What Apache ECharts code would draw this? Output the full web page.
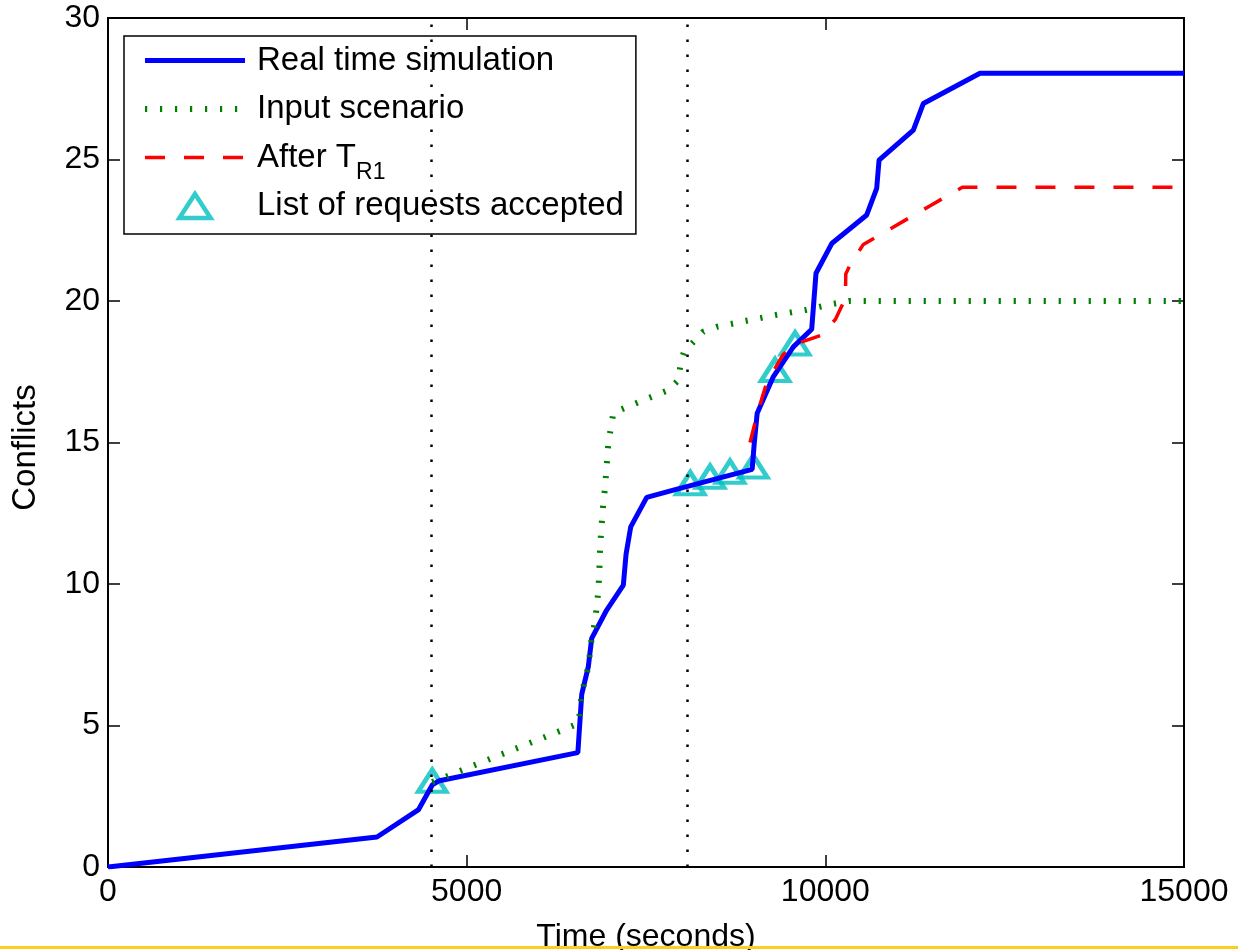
<!DOCTYPE html>
<html>
<head>
<meta charset="utf-8">
<script src="https://cdn.jsdelivr.net/npm/echarts@6/dist/echarts.min.js"></script>
<style>
  html, body { margin: 0; padding: 0; background: #fff; }
  #chart { width: 1238px; height: 950px; }
</style>
</head>
<body>
<div id="chart"></div>
<script>
// values: [time (s), conflicts]
var realTime = [
  [0, 0], [3750, 1.06], [4330, 2.03], [4520, 2.9], [4620, 3.05], [6550, 4.04],
  [6604, 6.1], [6696, 7.08], [6743, 8.08], [6952, 9.08], [7184, 9.96], [7222, 11.05],
  [7287, 12.02], [7510, 13.06], [7881, 13.32], [8980, 14.05], [9010, 15.0], [9050, 16.03],
  [9276, 17.33], [9554, 18.38], [9810, 19.0], [9870, 20.98], [10089, 22.03], [10577, 23.04],
  [10716, 23.98], [10749, 24.98], [11227, 26.04], [11367, 26.98], [12156, 28.05], [15000, 28.05]
];
var inputScenario = [
  [4520, 3.0], [6560, 5.07], [6604, 6.14], [6696, 7.08], [6743, 8.1], [6790, 8.67],
  [6835, 9.73], [6850, 10.5], [6860, 11.3], [6905, 12.9], [6929, 13.4], [6975, 14.97],
  [7045, 16.05], [7420, 16.45], [7810, 16.85], [7950, 17.2], [7990, 17.9], [8030, 18.2],
  [8160, 18.55], [8300, 18.92], [8490, 19.09], [8900, 19.3], [9300, 19.5], [9720, 19.68],
  [10110, 19.9], [10330, 20.0], [15000, 20.0]
];
var afterTR1 = [
  [8950, 15.0], [9050, 16.0], [9180, 17.1], [9410, 18.1], [9560, 18.45], [9950, 18.8],
  [10140, 19.35], [10280, 20.1], [10285, 20.95], [10350, 21.3], [10530, 22.0],
  [11450, 23.35], [11910, 24.02], [15000, 24.02]
];
var accepted = [
  [4520, 3.05], [8117, 13.56], [8393, 13.79], [8671, 13.97], [8997, 14.15],
  [9299, 17.56], [9578, 18.5]
];
var markerTimes = [4500, 8080];
var xTicks = [0, 5000, 10000, 15000];
var yTicks = [0, 5, 10, 15, 20, 25, 30];

var FONT = 'Liberation Sans, Arial, Helvetica, sans-serif';
var CYAN = '#00BFBF';
var TRI = 'path://M13,0L26,20L0,20Z';
var noSymbol = { color: 'rgba(0,0,0,0)', borderWidth: 0 };

var chart = echarts.init(document.getElementById('chart'));

function axis(extra) {
  return Object.assign({
    type: 'value',
    axisLine: { show: true, onZero: false, lineStyle: { color: '#000', width: 2 } },
    axisTick: { show: true, inside: true, length: 12, lineStyle: { color: '#000', width: 1.5 } },
    splitLine: { show: false }
  }, extra);
}
var labelStyle = {
  fontSize: 32, fontFamily: FONT, color: '#000',
  formatter: function (v) { return String(v); }
};

var option = {
  animation: false,
  backgroundColor: '#fff',
  grid: {
    left: 108, right: 54, top: 18, bottom: 83,
    outerBoundsMode: 'none', containLabel: false,
    show: true, borderColor: '#000', borderWidth: 2
  },
  xAxis: [
    axis({
      min: xTicks[0], max: xTicks[xTicks.length - 1], interval: xTicks[1] - xTicks[0],
      position: 'bottom',
      name: 'Time (seconds)', nameLocation: 'middle', nameGap: 54,
      nameTextStyle: { fontSize: 32, fontFamily: FONT, color: '#000' },
      axisLabel: Object.assign({ margin: 9 }, labelStyle)
    }),
    axis({
      min: xTicks[0], max: xTicks[xTicks.length - 1], interval: xTicks[1] - xTicks[0],
      position: 'top', axisLabel: { show: false }
    })
  ],
  yAxis: [
    axis({
      min: yTicks[0], max: yTicks[yTicks.length - 1], interval: yTicks[1] - yTicks[0],
      position: 'left',
      name: 'Conflicts', nameLocation: 'middle', nameGap: 66,
      nameTextStyle: { fontSize: 33, fontFamily: FONT, color: '#000', padding: [0, 10, 0, 0] },
      axisLabel: Object.assign({ margin: 8 }, labelStyle)
    }),
    axis({
      min: yTicks[0], max: yTicks[yTicks.length - 1], interval: yTicks[1] - yTicks[0],
      position: 'right', axisLabel: { show: false }
    })
  ],
  legend: {
    orient: 'vertical', left: 124, top: 36,
    itemWidth: 100, itemHeight: 24, itemGap: 5,
    padding: [8, 12, 1, 18],
    borderColor: '#000', borderWidth: 1.5, backgroundColor: '#fff',
    selectedMode: false,
    textStyle: {
      fontSize: 33, fontFamily: FONT, color: '#000', padding: [0, 0, 0, 7],
      rich: { sub: { fontSize: 23, fontFamily: FONT, color: '#000', lineHeight: 2, height: 2, verticalAlign: 'bottom' } }
    },
    formatter: function (name) {
      // every row gets the same rich layout so that the rows share one height
      return name === 'After TR1' ? 'After T{sub|R1}' : name + '{sub|\u200b}';
    },
    data: [
      { name: 'Real time simulation', itemStyle: noSymbol, lineStyle: { width: 5, color: '#0000FF', type: 'solid' } },
      { name: 'Input scenario', itemStyle: noSymbol, lineStyle: { width: 6, color: '#008000', type: [2.2, 12.8] } },
      { name: 'After TR1', itemStyle: noSymbol, lineStyle: { width: 3.5, color: '#FF0000', type: [20, 19] } },
      { name: 'List of requests accepted', icon: TRI,
        itemStyle: { color: 'rgba(0,0,0,0)', borderColor: CYAN, borderWidth: 4.5 } }
    ]
  },
  series: [
    {
      name: 'Real time simulation', type: 'line', data: realTime,
      symbol: 'none', lineStyle: { color: '#0000FF', width: 5 }, itemStyle: { color: '#0000FF' },
      markLine: {
        silent: true, symbol: 'none', label: { show: false },
        emphasis: { disabled: true },
        lineStyle: { color: '#000', width: 2.5, type: [2.5, 12.5] },
        data: markerTimes.map(function (t) { return { xAxis: t }; })
      }
    },
    {
      name: 'Input scenario', type: 'line', data: inputScenario,
      symbol: 'none', lineStyle: { color: '#008000', width: 6, type: [2.2, 12.8] }, itemStyle: { color: '#008000' }
    },
    {
      name: 'After TR1', type: 'line', data: afterTR1,
      symbol: 'none', lineStyle: { color: '#FF0000', width: 3.5, type: [20, 19] }, itemStyle: { color: '#FF0000' }
    },
    {
      name: 'List of requests accepted', type: 'scatter', data: accepted,
      symbol: TRI, symbolSize: [28, 22],
      itemStyle: { color: 'rgba(0,0,0,0)', borderColor: CYAN, borderWidth: 4.5 }
    },
    // keeps the top and right box axes alive
    { name: 'box', type: 'line', data: [], xAxisIndex: 1, yAxisIndex: 1, symbol: 'none' }
  ],
  graphic: [
    { type: 'rect', left: 0, bottom: 1, z: 100, shape: { width: 1238, height: 3 }, style: { fill: '#F9D01C' } }
  ]
};

chart.setOption(option);
</script>
</body>
</html>
